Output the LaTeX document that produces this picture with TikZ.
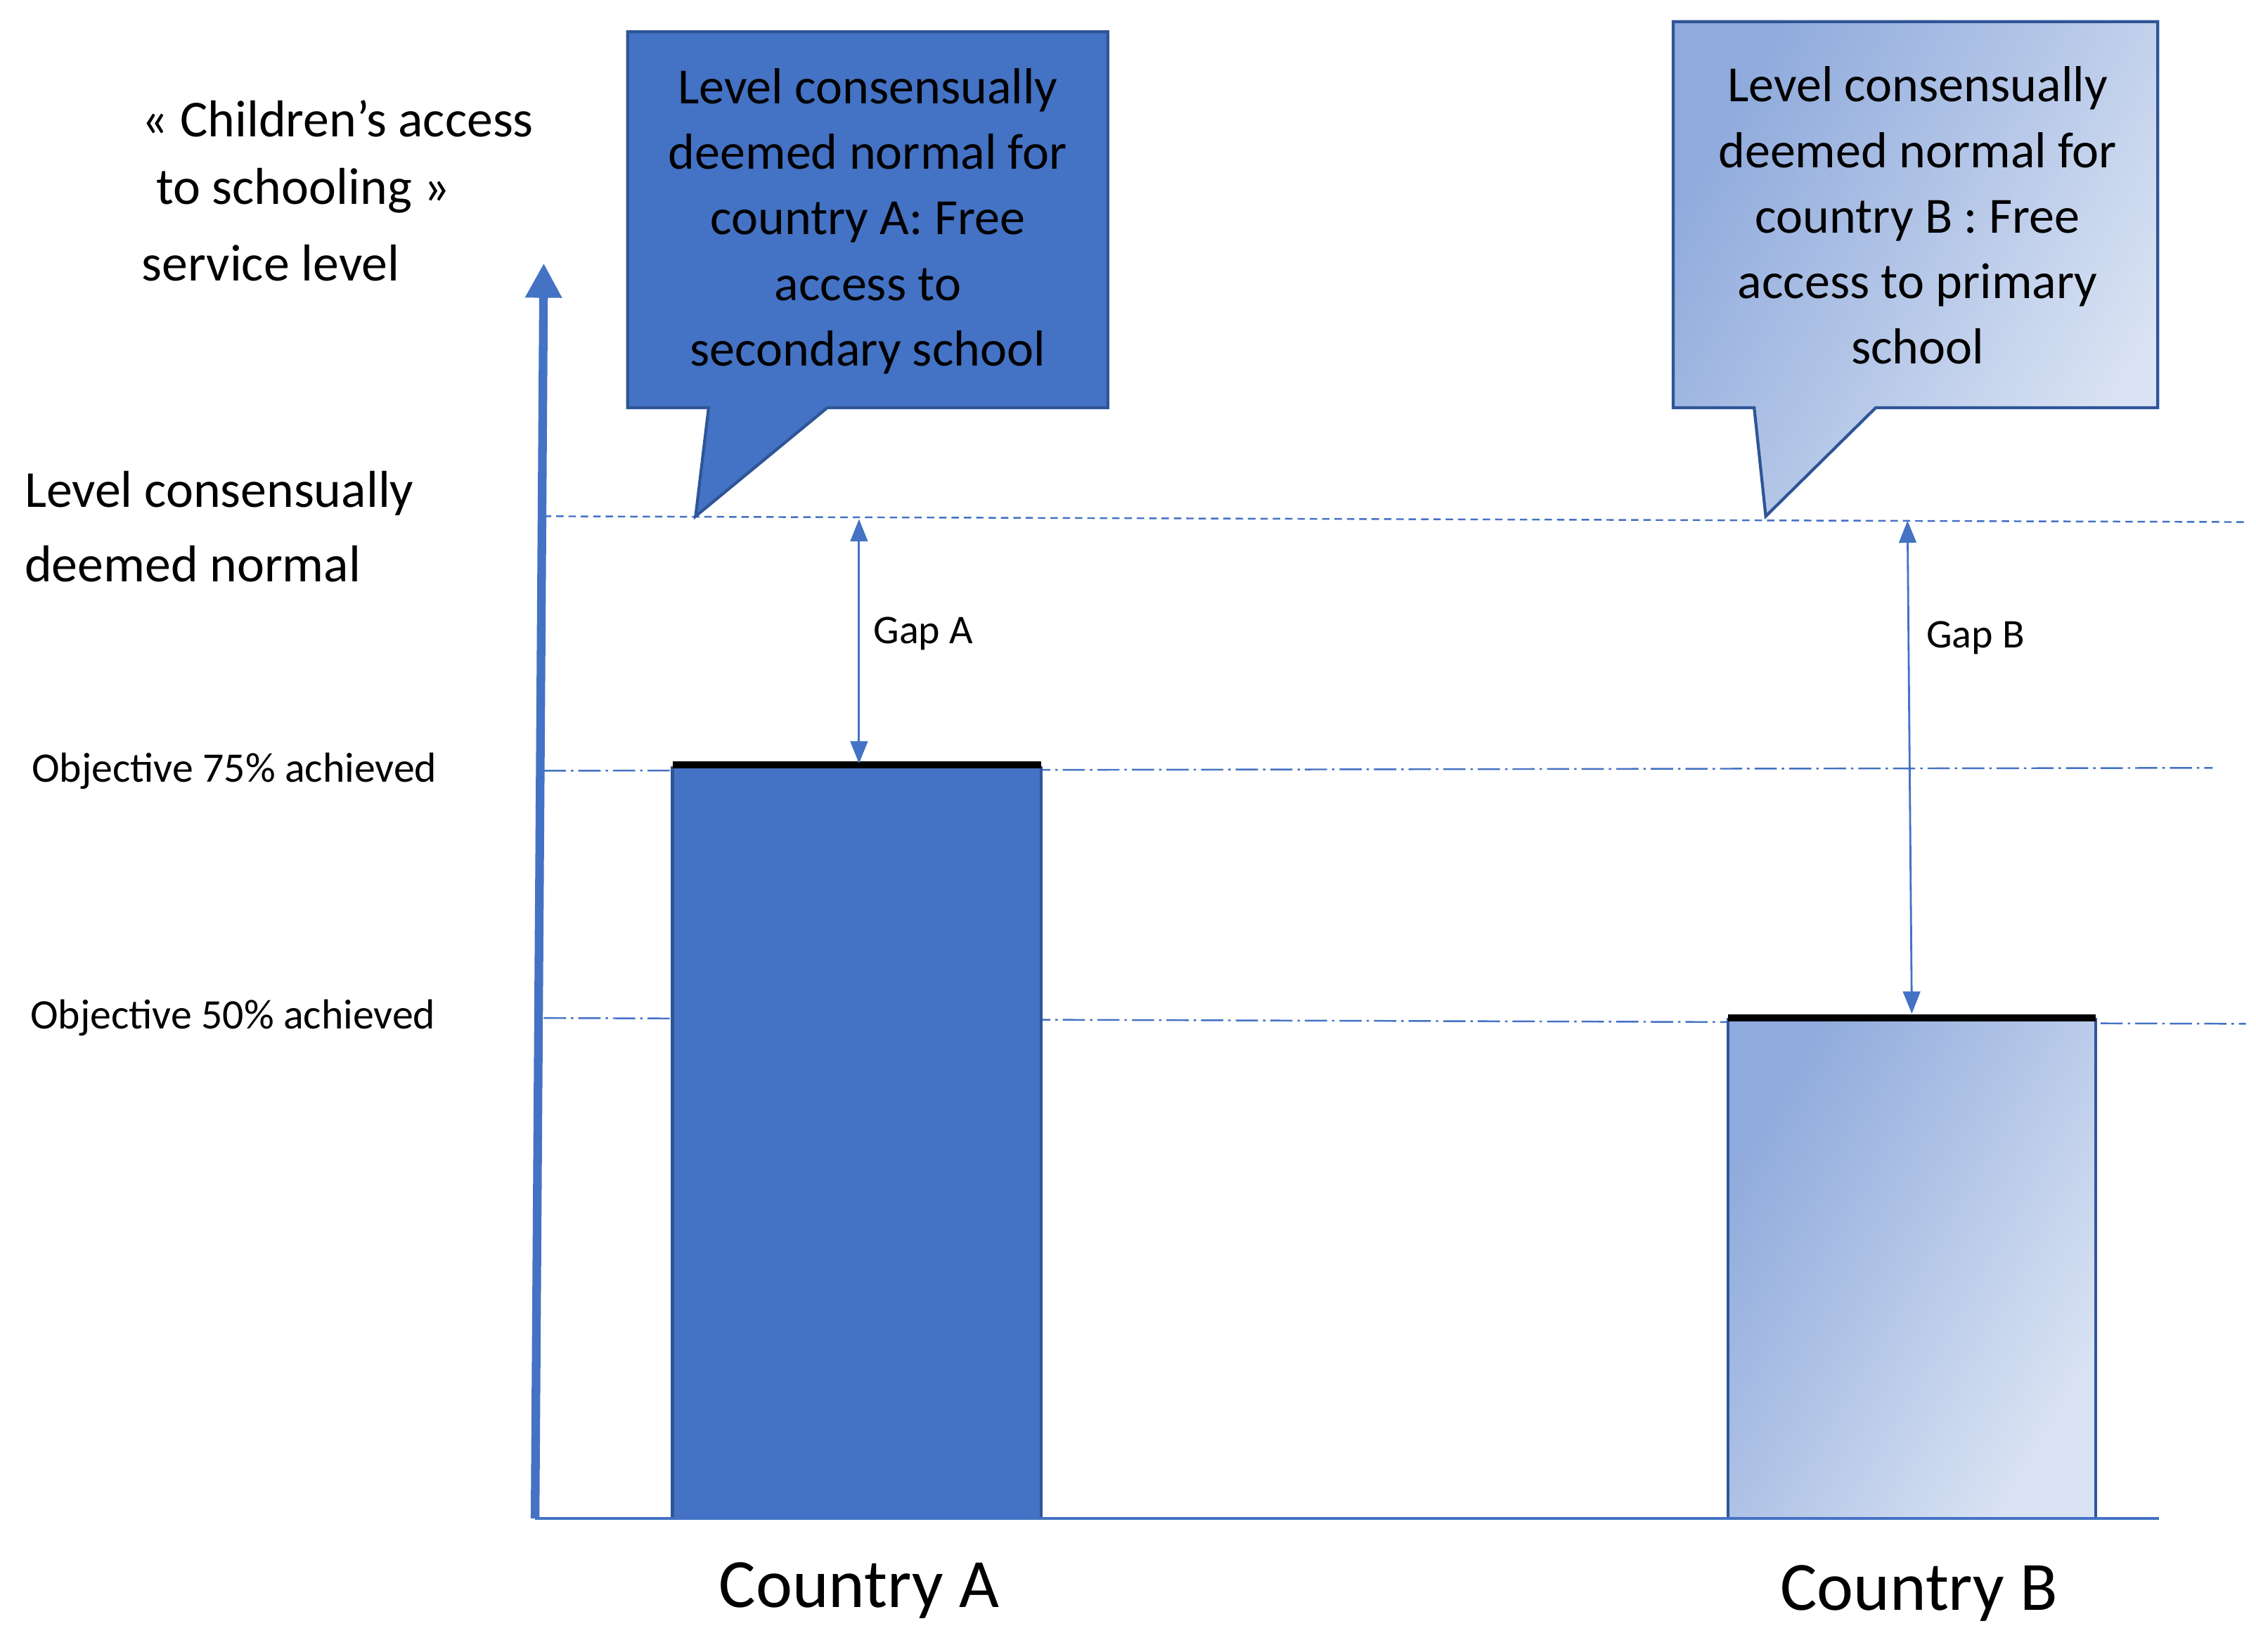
\documentclass[tikz,border=0pt]{standalone}
\usepackage{fontspec}
\setmainfont{Carlito}
\usetikzlibrary{arrows.meta}
\definecolor{blueA}{HTML}{4472C4}
\definecolor{edgeA}{HTML}{2F5597}
\definecolor{lightA}{HTML}{8FAADC}
\definecolor{lightB}{HTML}{DAE3F3}
\tikzset{
  lvl/.style={draw=blueA, line width=0.7pt, dashed, dash pattern=on 3pt off 2pt},
  obj/.style={draw=blueA, line width=0.7pt, dash pattern=on 9pt off 2pt on 1pt off 2pt},
  gap/.style={draw=blueA, line width=0.8pt, {Triangle[length=9pt,width=7pt]}-{Triangle[length=9pt,width=7pt]}},
  boxtxt/.style={align=center, font=\fontsize{20.5}{26.5}\selectfont, text=black},
  objtxt/.style={anchor=west, font=\fontsize{17}{20}\selectfont},
}
\begin{document}
\begin{tikzpicture}[x=0.02057cm,y=-0.02057cm]
\useasboundingbox (0,0) rectangle (1560,1142);
% reference lines
\draw[lvl] (376,357) coordinate (l1) -- (1553,361) coordinate (l2);
\draw[obj] (376,533) coordinate (o1) -- (1530,531) coordinate (o2);
\draw[obj] (376,704) coordinate (p1) -- (1553,708) coordinate (p2);
% bars
\fill[blueA] (465,530) rectangle (720,1050);
\draw[edgeA, line width=1.2pt] (465,1050) -- (465,530) (720,530) -- (720,1050);
\draw[black, line width=3pt] (465,529) -- (720,529);
\shade[left color=lightA, right color=lightB, shading angle=60] (1195,704) rectangle (1449,1050);
\draw[edgeA, line width=1.2pt] (1195,1050) -- (1195,704) (1449,704) -- (1449,1050);
\draw[black, line width=3pt] (1195,704) -- (1449,704);
% axes
\coordinate (o) at (370,1050);
\coordinate (top) at (376,182);
\coordinate (xend) at (1493,1050);
\draw[blueA, line width=1pt] (o) -- (xend);
\draw[blueA, line width=3.5pt, -{Triangle[length=14pt,width=14pt]}] (o) -- (top);
% callouts
\filldraw[fill=blueA, draw=edgeA, line width=1.2pt] (434,22) -- (766,22) -- (766,282) -- (572,282) -- (481,357) -- (490,282) -- (434,282) -- cycle;
\node[boxtxt] (ta) at (600,153) {Level consensually\\deemed normal for\\country A: Free\\access to\\secondary school};
\shade[left color=lightA, right color=lightB, shading angle=60] (1157,15) -- (1492,15) -- (1492,282) -- (1297,282) -- (1221,357) -- (1213,282) -- (1157,282) -- cycle;
\draw[edgeA, line width=1.2pt] (1157,15) -- (1492,15) -- (1492,282) -- (1297,282) -- (1221,357) -- (1213,282) -- (1157,282) -- cycle;
\node[boxtxt] (tb) at (1326,149) {Level consensually\\deemed normal for\\country B : Free\\access to primary\\school};
% gaps
\coordinate (ga1) at (594,359); \coordinate (ga2) at (594,528);
\coordinate (gb1) at (1319,360); \coordinate (gb2) at (1322,701);
\draw[gap] (ga1) -- (ga2);
\draw[gap] (gb1) -- (gb2);
\node[anchor=west, font=\fontsize{16.5}{20}\selectfont] (la) at (598,438) {Gap A};
\node[anchor=west, font=\fontsize{16.5}{20}\selectfont] (lb) at (1326,441) {Gap B};
% left labels
\node[anchor=west, font=\fontsize{21}{25}\selectfont] (y1) at (92,82) {« Children’s access};
\node[anchor=west, font=\fontsize{21}{25}\selectfont] (y2) at (102,132) {to schooling »};
\node[anchor=west, font=\fontsize{21}{25}\selectfont] (y3) at (92,182) {service level};
\node[anchor=west, font=\fontsize{21}{25}\selectfont] (n1) at (11,341) {Level consensually};
\node[anchor=west, font=\fontsize{21}{25}\selectfont] (n2) at (11,390) {deemed normal};
\node[objtxt] (ob1) at (16,533) {Objective 75\% achieved};
\node[objtxt] (ob2) at (15,704) {Objective 50\% achieved};
% countries
\node[font=\fontsize{28}{32}\selectfont] (ca) at (594,1100) {Country A};
\node[font=\fontsize{28}{32}\selectfont] (cb) at (1327,1102) {Country B};
\end{tikzpicture}
\end{document}
